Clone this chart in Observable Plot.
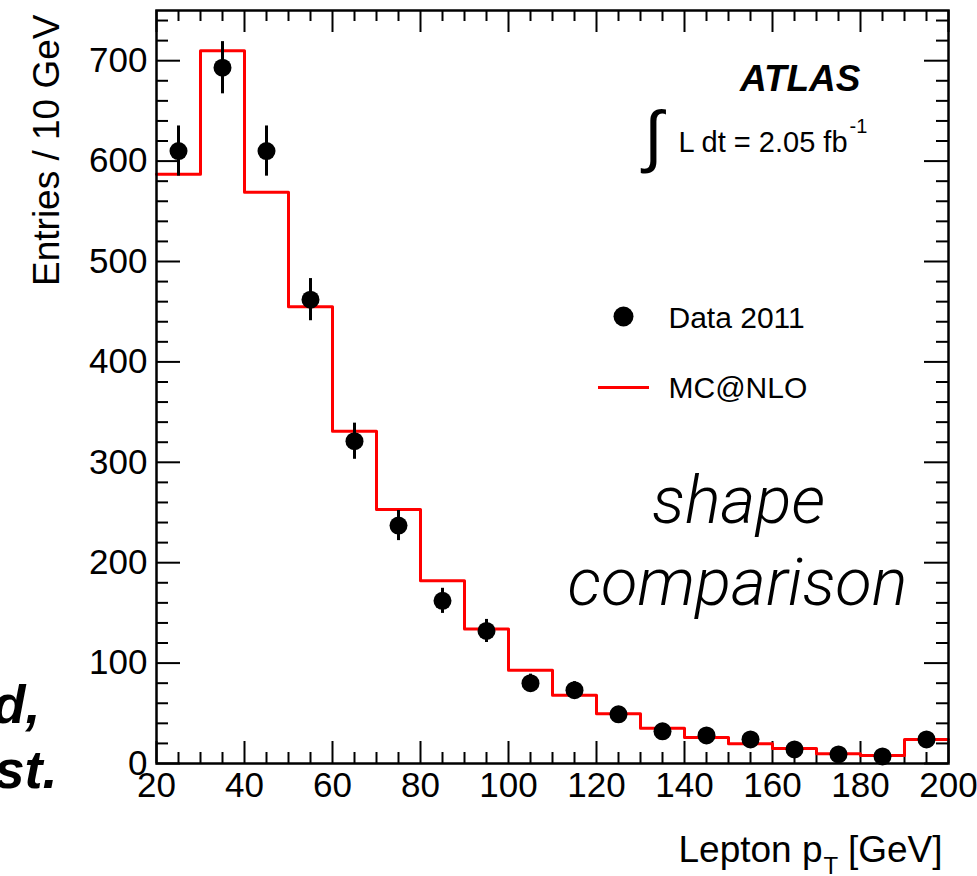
<!DOCTYPE html>
<html><head><meta charset="utf-8">
<script src="https://cdn.jsdelivr.net/npm/d3@7"></script>
<script src="https://cdn.jsdelivr.net/npm/@observablehq/plot@0.6"></script>
<style>
html,body{margin:0;padding:0;background:#fff;}
#chart svg{display:block;}
</style></head><body><div id="chart"></div>
<script>
// ---- data ----
const binCenters = [25,35,45,55,65,75,85,95,105,115,125,135,145,155,165,175,185,195];
const dataCounts = [610,693,610,462,321,237,162,132,80,73,49,32,28,24,14,9,7,24];
const dataErrors = [25,26,25,21,18,15,12.5,11.5,9,8.5,7,5.7,5.3,4.9,3.7,3,2.6,4.9];
const binLowEdges = [20,30,40,50,60,70,80,90,100,110,120,130,140,150,160,170,180,190];
const binUpperEdge = 200;
const mcCounts = [587,710,569,455,331,253,182,134,93,68,49.5,35,26,19.6,15,9.6,8,24];
const xMajorTicks = [20,40,60,80,100,120,140,160,180,200];
const xMinorTicks = [25,30,35,45,50,55,65,70,75,85,90,95,105,110,115,125,130,135,145,150,155,165,170,175,185,190,195];
const yMajorTicks = [0,100,200,300,400,500,600,700];
const yMinorTicks = [20,40,60,80,120,140,160,180,220,240,260,280,320,340,360,380,420,440,460,480,520,540,560,580,620,640,660,680,720,740];
const xDomain = [20,200];
const yDomain = [0,750];

// ---- layout ----
const W = 977, H = 876, mL = 156, mR = 29, mT = 10, mB = 113;
const frameW = W - mL - mR, frameH = H - mT - mB;
const font = "'Liberation Sans', Arial, Helvetica, sans-serif";
const lightFont = "Roboto, 'Liberation Sans', sans-serif";

const dataPts = binCenters.map((x, i) => ({x, y: dataCounts[i], e: dataErrors[i]}));
const mcStep = binLowEdges.map((x, i) => ({x, y: mcCounts[i]}))
  .concat([{x: binUpperEdge, y: mcCounts[mcCounts.length - 1]}]);

const tl = (txt, o) => Plot.text([txt], {frameAnchor: "top-left", lineAnchor: "bottom", fontFamily: font, fill: "black", ...o});

const chart = Plot.plot({
  width: W, height: H,
  marginLeft: mL, marginRight: mR, marginTop: mT, marginBottom: mB,
  style: {fontFamily: font, background: "white", color: "black"},
  x: {domain: xDomain},
  y: {domain: yDomain},
  marks: [
    // tick labels
    Plot.axisX(xMajorTicks, {tickSize: 0, tickPadding: 9, fontSize: 35, label: null}),
    Plot.axisY(yMajorTicks, {tickSize: 0, tickPadding: 9, fontSize: 35, label: null}),
    // inward ticks on all four sides
    Plot.tickX(xMajorTicks, {insetTop: frameH - 22, stroke: "black", strokeWidth: 2}),
    Plot.tickX(xMajorTicks, {insetBottom: frameH - 22, stroke: "black", strokeWidth: 2}),
    Plot.tickX(xMinorTicks, {insetTop: frameH - 11, stroke: "black", strokeWidth: 2}),
    Plot.tickX(xMinorTicks, {insetBottom: frameH - 11, stroke: "black", strokeWidth: 2}),
    Plot.tickY(yMajorTicks, {insetRight: frameW - 24, stroke: "black", strokeWidth: 2}),
    Plot.tickY(yMajorTicks, {insetLeft: frameW - 24, stroke: "black", strokeWidth: 2}),
    Plot.tickY(yMinorTicks, {insetRight: frameW - 12, stroke: "black", strokeWidth: 2}),
    Plot.tickY(yMinorTicks, {insetLeft: frameW - 12, stroke: "black", strokeWidth: 2}),
    // MC histogram
    Plot.line(mcStep, {x: "x", y: "y", curve: "step-after", stroke: "#ff0000", strokeWidth: 3}),
    // data with error bars
    Plot.ruleX(dataPts, {x: "x", y1: d => d.y - d.e, y2: d => d.y + d.e, stroke: "black", strokeWidth: 3}),
    Plot.dot(dataPts, {x: "x", y: "y", r: 9, fill: "black", stroke: null}),
    Plot.frame({stroke: "black", strokeWidth: 2.5}),
    // axis titles
    tl("Entries / 10 GeV", {rotate: -90, textAnchor: "end", dx: -98, dy: 4, fontSize: 37}),
    tl("Lepton p", {textAnchor: "start", dx: 522, dy: 851, fontSize: 37}),
    tl("T", {textAnchor: "start", dx: 667, dy: 863, fontSize: 24}),
    tl("[GeV]", {textAnchor: "end", dx: 786, dy: 851, fontSize: 37}),
    // ATLAS label and luminosity
    tl("ATLAS", {textAnchor: "end", dx: 704, dy: 80, fontSize: 37, fontWeight: "bold", fontStyle: "italic"}),
    tl("∫", {textAnchor: "middle", dx: 497, dy: 148, fontSize: 68}),
    tl("L dt = 2.05 fb", {textAnchor: "start", dx: 522, dy: 141, fontSize: 29}),
    tl("-1", {textAnchor: "start", dx: 693, dy: 122, fontSize: 20}),
    // legend
    Plot.dot([0], {x: null, y: null, frameAnchor: "top-left", dx: 467, dy: 306, r: 10, fill: "black", stroke: null}),
    tl("Data 2011", {textAnchor: "start", dx: 512, dy: 317, fontSize: 30}),
    Plot.tickY([374.5], {insetLeft: 442, insetRight: 299, stroke: "#ff0000", strokeWidth: 3}),
    tl("MC@NLO", {textAnchor: "start", dx: 512, dy: 387, fontSize: 30}),
    // shape comparison
    tl("shape", {textAnchor: "middle", dx: 582, dy: 512, fontSize: 67, fontFamily: lightFont, fontWeight: 300, fontStyle: "italic"}),
    tl("comparison", {textAnchor: "middle", dx: 581, dy: 594, fontSize: 67, fontFamily: lightFont, fontWeight: 300, fontStyle: "italic"}),
    // cropped text from the neighbouring panel
    tl("d,", {textAnchor: "end", dx: -116, dy: 712, fontSize: 54, fontWeight: "bold", fontStyle: "italic"}),
    tl("st.", {textAnchor: "end", dx: -99, dy: 777, fontSize: 54, fontWeight: "bold", fontStyle: "italic"})
  ]
});
document.getElementById("chart").appendChild(chart);
</script></body></html>
